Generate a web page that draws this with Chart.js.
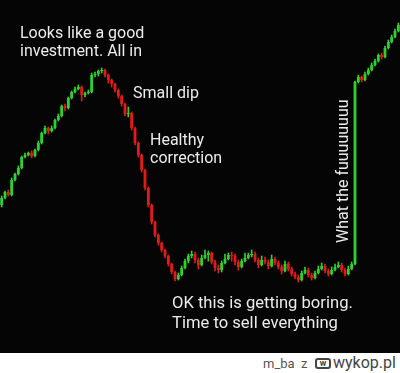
<!DOCTYPE html>
<html>
<head>
<meta charset="utf-8">
<script src="https://cdn.jsdelivr.net/npm/chart.js@4.4.1/dist/chart.umd.min.js"></script>
<style>
  body { margin: 0; background: #fff; font-family: Roboto, sans-serif; }
  #wrap { width: 400px; height: 353px; background: #050505; }
  #foot { position: relative; width: 400px; height: 20px; background: #fff; }
  #foot span { position: absolute; top: 1px; font-size: 15px; line-height: 18px; }
  #logo { left: 315px; top: 5px !important; width: 12px; height: 7px; border: 2px solid #444;
          border-radius: 3px; font-size: 9px !important; line-height: 7px !important;
          font-weight: bold; text-align: center; color: #444; }
</style>
</head>
<body>
<div id="wrap"><canvas id="chart" width="400" height="353"></canvas></div>
<div id="foot">
  <span style="left:263px;color:#555;font-size:13px;top:2px">m_ba</span>
  <span style="left:301px;color:#555;font-size:13px;top:2px">z</span>
  <span id="logo">w</span>
  <span style="left:333px;color:#444;font-size:16px">wykop.pl</span>
</div>
<script>
// candle closes, price units (one per candle, left to right)
var firstOpen = 148;
var closes = [155, 161, 158, 173, 179, 185, 196, 198, 200, 197,
              203, 210, 220, 225, 222, 225, 233, 237, 247, 245,
              255, 261, 264, 266, 258, 260, 261, 278, 279, 282,
              283, 278, 273, 269, 263, 257, 249, 239, 240, 225,
              210, 198, 183, 165, 148, 131, 118, 110, 103, 97,
              89, 81, 74, 78, 85, 92, 97, 99, 93, 88,
              95, 98, 100, 91, 85, 83, 90, 94, 98, 97,
              91, 86, 92, 95, 98, 99, 93, 88, 93, 91,
              87, 94, 90, 86, 82, 89, 84, 79, 76, 73,
              80, 83, 78, 75, 80, 84, 87, 82, 79, 83,
              86, 88, 83, 79, 84, 89, 271, 276, 273, 279,
              283, 288, 292, 298, 296, 305, 311, 316, 322, 328];
var highs = [157, 162, 163, 175, 180, 187, 197, 200, 201, 202,
             204, 212, 221, 227, 226, 227, 234, 239, 248, 249,
             256, 262, 266, 268, 267, 261, 263, 280, 281, 283,
             285, 284, 279, 274, 270, 264, 258, 250, 246, 241,
             226, 211, 199, 184, 166, 149, 132, 119, 111, 104,
             98, 90, 82, 80, 87, 94, 99, 102, 101, 95,
             98, 103, 102, 101, 93, 88, 92, 99, 100, 101,
             99, 93, 94, 100, 100, 103, 101, 95, 97, 96,
             93, 98, 96, 92, 88, 92, 91, 86, 81, 78,
             82, 86, 85, 80, 82, 87, 90, 89, 84, 86,
             89, 91, 90, 85, 87, 91, 272, 278, 277, 281,
             285, 290, 294, 299, 300, 307, 313, 318, 324, 330];
var lows = [146, 154, 157, 157, 172, 178, 184, 195, 197, 195,
            196, 202, 209, 219, 219, 221, 224, 232, 236, 242,
            244, 254, 260, 263, 252, 256, 259, 260, 276, 277,
            280, 276, 270, 266, 261, 255, 247, 237, 236, 223,
            208, 196, 181, 163, 146, 129, 116, 108, 101, 95,
            87, 79, 72, 73, 77, 84, 90, 95, 90, 84,
            87, 94, 92, 89, 82, 80, 81, 89, 93, 92,
            88, 83, 85, 91, 94, 96, 91, 85, 87, 89,
            84, 86, 88, 84, 79, 81, 82, 77, 74, 71,
            72, 79, 76, 73, 74, 79, 83, 80, 77, 78,
            82, 85, 81, 77, 78, 83, 88, 270, 271, 272,
            278, 282, 287, 291, 294, 295, 304, 310, 315, 321];

var labels = closes.map(function (c, i) { return String(i); });
var bodies = [];
var wicks = [];
var colors = [];
for (var i = 0; i < closes.length; i++) {
  var open = i == 0 ? firstOpen : closes[i - 1];
  bodies.push([open, closes[i]]);
  wicks.push([lows[i], highs[i]]);
  colors.push(closes[i] >= open ? '#2fd12f' : '#e01b1b');
}

var notes = [
  { text: 'Looks like a good', x: 20, y: 38, size: 16 },
  { text: 'investment. All in', x: 20, y: 56, size: 16 },
  { text: 'Small dip', x: 133, y: 98, size: 16 },
  { text: 'Healthy', x: 150, y: 145, size: 16 },
  { text: 'correction', x: 150, y: 163, size: 16 },
  { text: 'OK this is getting boring.', x: 172, y: 308, size: 16.6 },
  { text: 'Time to sell everything', x: 172, y: 328, size: 16.6 }
];

var notesPlugin = {
  id: 'notes',
  afterDraw: function (chart) {
    var ctx = chart.ctx;
    ctx.save();
    ctx.fillStyle = '#ececec';
    ctx.textBaseline = 'alphabetic';
    notes.forEach(function (n) {
      ctx.font = n.size + 'px Roboto';
      ctx.fillText(n.text, n.x, n.y);
    });
    ctx.font = '16px Roboto';
    ctx.translate(348, 243);
    ctx.rotate(-Math.PI / 2);
    ctx.fillText('What the fuuuuuuuu', 0, 0);
    ctx.restore();
  }
};

new Chart(document.getElementById('chart'), {
  type: 'bar',
  data: {
    labels: labels,
    datasets: [{
      data: bodies,
      backgroundColor: colors,
      grouped: false,
      categoryPercentage: 1,
      barPercentage: 0.85
    }, {
      data: wicks,
      backgroundColor: colors,
      grouped: false,
      barThickness: 1
    }]
  },
  options: {
    responsive: false,
    animation: false,
    layout: { padding: 0 },
    plugins: { legend: { display: false }, tooltip: { enabled: false } },
    scales: {
      x: { display: false },
      y: { display: false, min: 0, max: 353 }
    }
  },
  plugins: [notesPlugin]
});
</script>
</body>
</html>
